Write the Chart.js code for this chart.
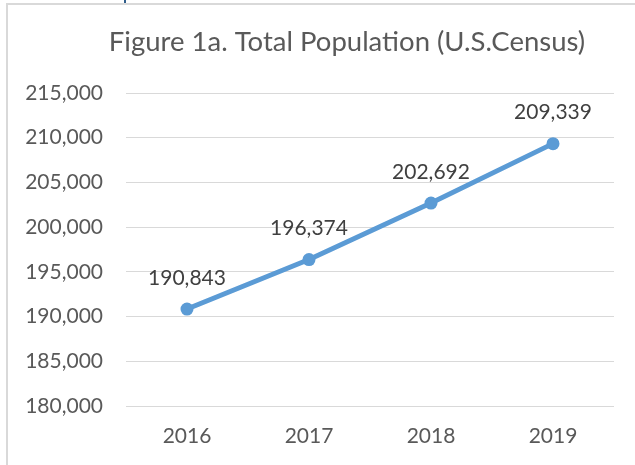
<!DOCTYPE html>
<html>
<head>
<meta charset="utf-8">
<script src="https://cdn.jsdelivr.net/npm/chart.js@4.4.1/dist/chart.umd.min.js"></script>
<style>
  html, body { margin: 0; padding: 0; background: #fff; overflow: hidden; }
  #wrap { position: relative; width: 635px; height: 465px; overflow: hidden; }
  #frame { position: absolute; left: 6px; top: 3px; width: 700px; height: 600px;
           border-left: 2px solid #d9d9d9; border-top: 2px solid #d9d9d9; }
  #mark { position: absolute; left: 124px; top: 0; width: 2px; height: 3px; background: #2e5c8a; }
  canvas { position: absolute; left: 0; top: 0; }
</style>
</head>
<body>
<div id="wrap">
  <div id="frame"></div>
  <div id="mark"></div>
  <canvas id="popChart" width="635" height="465"></canvas>
</div>
<script>
// values
const years = ['2016', '2017', '2018', '2019'];
const population = [190843, 196374, 202692, 209339];
const yMin = 180000;
const yMax = 215000;
const yStep = 5000;
const chartTitle = 'Figure 1a. Total Population (U.S.Census)';

const fmt = v => v.toLocaleString('en-US');

// value above each point, like the Excel data labels
const pointLabels = {
    id: 'pointLabels',
    afterDatasetsDraw(chart) {
        const ctx = chart.ctx;
        const meta = chart.getDatasetMeta(0);
        ctx.save();
        ctx.font = '21px Lato';
        ctx.fillStyle = '#404040';
        ctx.textAlign = 'center';
        ctx.textBaseline = 'middle';
        meta.data.forEach((pt, i) => {
            ctx.fillText(fmt(population[i]), pt.x, pt.y - 31);
        });
        ctx.restore();
    }
};

// title sits off-centre in the original, so draw it by hand
const titlePlugin = {
    id: 'titlePlugin',
    afterDraw(chart) {
        const ctx = chart.ctx;
        ctx.save();
        ctx.font = '27.5px Lato';
        ctx.fillStyle = '#595959';
        ctx.textAlign = 'center';
        ctx.textBaseline = 'middle';
        ctx.fillText(chartTitle, 347, 42);
        ctx.restore();
    }
};

const ctx = document.getElementById('popChart').getContext('2d');
new Chart(ctx, {
    type: 'line',
    data: {
        labels: years,
        datasets: [{
            data: population,
            borderColor: '#5B9BD5',
            backgroundColor: '#5B9BD5',
            borderWidth: 5,
            pointRadius: 6.5,
            pointBackgroundColor: '#5B9BD5',
            pointBorderWidth: 0,
            tension: 0,
        }]
    },
    options: {
        responsive: false,
        animation: false,
        layout: { padding: { left: 0, right: 21, top: 93, bottom: 0 } },
        plugins: {
            legend: { display: false },
            tooltip: { enabled: false },
            title: { display: false }
        },
        scales: {
            x: {
                offset: true,
                afterFit(scale) { scale.height = 59; },
                grid: { display: false, drawTicks: false },
                border: { display: false },
                ticks: { color: '#595959', font: { family: 'Lato', size: 21 }, padding: 18, maxRotation: 0 }
            },
            y: {
                min: yMin,
                max: yMax,
                afterFit(scale) { scale.width = 126; },
                grid: { color: '#d9d9d9', lineWidth: 1, drawTicks: false },
                border: { display: false },
                ticks: {
                    stepSize: yStep,
                    color: '#595959',
                    font: { family: 'Lato', size: 21 },
                    padding: 23,
                    callback: v => fmt(v)
                }
            }
        }
    },
    plugins: [pointLabels, titlePlugin]
});
</script>
</body>
</html>
